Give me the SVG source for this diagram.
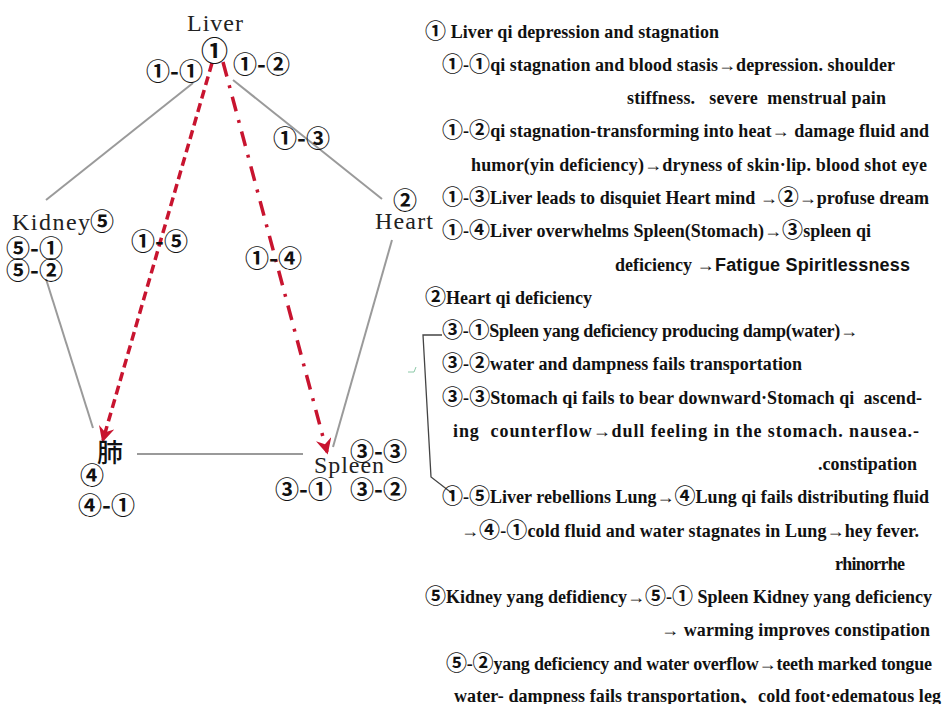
<svg xmlns="http://www.w3.org/2000/svg" width="945" height="704" viewBox="0 0 945 704">
<style>
.lbl{font-family:"Liberation Serif","Noto Sans CJK JP",serif;font-size:24px;fill:#222}
.num{font-family:"Noto Sans CJK JP",sans-serif;font-size:24px;font-weight:bold;fill:#111}
.cjk{font-family:"Noto Sans CJK JP",sans-serif;font-size:26px;font-weight:500;fill:#111}
.txt{font-family:"Liberation Serif","Noto Sans CJK JP",serif;font-weight:bold;font-size:18px;fill:#111;white-space:pre}
.c{font-family:"Noto Sans CJK JP",sans-serif;font-size:21px;font-weight:bold}
.sans{font-family:"Liberation Sans",Arial,sans-serif;font-weight:bold;font-size:18px}
.edge{stroke:#9a9a9a;stroke-width:2;fill:none}
.red{stroke:#c8142f;stroke-width:3.5;fill:none}
.dash{stroke-dasharray:9 5}
.dashdot{stroke-dasharray:15 9 3 9}
.brk{stroke:#444;stroke-width:1.3;fill:none}
</style>
<defs>
<marker id="ah" viewBox="0 0 12 12" refX="10" refY="6" markerWidth="16" markerHeight="16" markerUnits="userSpaceOnUse" orient="auto">
<path d="M0,0 L12,6 L0,12 L4,6 z" fill="#c8142f"/>
</marker>
</defs>
<rect width="945" height="704" fill="#ffffff"/>

<g id="connectors">
<line class="edge" x1="193" y1="83" x2="46" y2="200"/>
<line class="edge" x1="233" y1="80" x2="382" y2="199"/>
<line class="edge" x1="392" y1="240" x2="333" y2="447"/>
<line class="edge" x1="46" y1="279" x2="93" y2="428"/>
<line class="edge" x1="137" y1="454" x2="303" y2="454"/>
<line class="red dash" x1="212" y1="63" x2="103" y2="440" marker-end="url(#ah)"/>
<line class="red dashdot" x1="223" y1="62" x2="327" y2="452" marker-end="url(#ah)"/>
<polyline class="brk" points="442,335 423,335 431,477 453,494"/>
</g>

<g id="edge-labels">
<text class="num" x="146" y="80">①-①</text>
<text class="num" x="233" y="73">①-②</text>
<text class="num" x="273" y="147">①-③</text>
<text class="num" x="245" y="267">①-④</text>
<text class="num" x="131" y="250">①-⑤</text>
</g>

<g id="liver">
<text class="lbl" x="187" y="31" textLength="56">Liver</text>
<text class="num" x="201" y="61" style="font-size:27px">①</text>
</g>
<g id="heart">
<text class="num" x="393" y="209">②</text>
<text class="lbl" x="375" y="229" textLength="58">Heart</text>
</g>
<g id="kidney">
<text class="lbl" x="12" y="230" textLength="78">Kidney</text>
<text class="num" x="90" y="230">⑤</text>
<text class="num" x="6" y="257">⑤-①</text>
<text class="num" x="6" y="279">⑤-②</text>
</g>
<g id="lung">
<text class="cjk" x="97" y="462">肺</text>
<text class="num" x="80" y="484">④</text>
<text class="num" x="78" y="514">④-①</text>
</g>
<g id="spleen">
<text class="lbl" x="314" y="473" textLength="70">Spleen</text>
<text class="num" x="350" y="460">③-③</text>
<text class="num" x="275" y="498">③-①</text>
<text class="num" x="350" y="498">③-②</text>
</g>

<path d="M408,372 L414,372 L416,367" stroke="#8cc9a8" stroke-width="1" fill="none"/>

<g id="notes">
<text class="txt" x="425" y="38" textLength="294"><tspan class="c">①</tspan> Liver qi depression and stagnation</text>
<text class="txt" x="442" y="71" textLength="453"><tspan class="c">①</tspan>-<tspan class="c">①</tspan>qi stagnation and blood stasis→depression. shoulder</text>
<text class="txt" x="627" y="104" textLength="259">stiffness.   severe  menstrual pain</text>
<text class="txt" x="442" y="137" textLength="487"><tspan class="c">①</tspan>-<tspan class="c">②</tspan>qi stagnation-transforming into heat→ damage fluid and</text>
<text class="txt" x="471" y="171" textLength="456">humor(yin deficiency)→dryness of skin·lip. blood shot eye</text>
<text class="txt" x="442" y="204" textLength="487"><tspan class="c">①</tspan>-<tspan class="c">③</tspan>Liver leads to disquiet Heart mind →<tspan class="c">②</tspan>→profuse dream</text>
<text class="txt" x="442" y="237" textLength="429"><tspan class="c">①</tspan>-<tspan class="c">④</tspan>Liver overwhelms Spleen(Stomach)→<tspan class="c">③</tspan>spleen qi</text>
<text class="txt" x="615" y="271">deficiency →<tspan class="sans" x="715" textLength="195">Fatigue Spiritlessness</tspan></text>
<text class="txt" x="425" y="304" textLength="167"><tspan class="c">②</tspan>Heart qi deficiency</text>
<text class="txt" x="442" y="337" textLength="416"><tspan class="c">③</tspan>-<tspan class="c">①</tspan>Spleen yang deficiency producing damp(water)→</text>
<text class="txt" x="442" y="370" textLength="360"><tspan class="c">③</tspan>-<tspan class="c">②</tspan>water and dampness fails transportation</text>
<text class="txt" x="442" y="404" textLength="480"><tspan class="c">③</tspan>-<tspan class="c">③</tspan>Stomach qi fails to bear downward·Stomach qi  ascend-</text>
<text class="txt" x="453" y="437" textLength="466">ing  counterflow→dull feeling in the stomach. nausea.-</text>
<text class="txt" x="818" y="470" textLength="99">.constipation</text>
<text class="txt" x="442" y="503" textLength="487"><tspan class="c">①</tspan>-<tspan class="c">⑤</tspan>Liver rebellions Lung→<tspan class="c">④</tspan>Lung qi fails distributing fluid</text>
<text class="txt" x="461" y="537" textLength="458">→<tspan class="c">④</tspan>-<tspan class="c">①</tspan>cold fluid and water stagnates in Lung→hey fever.</text>
<text class="txt" x="835" y="570" textLength="70">rhinorrhe</text>
<text class="txt" x="425" y="603" textLength="507"><tspan class="c">⑤</tspan>Kidney yang defidiency→<tspan class="c">⑤</tspan>-<tspan class="c">①</tspan> Spleen Kidney yang deficiency</text>
<text class="txt" x="661" y="636" textLength="269">→ warming improves constipation</text>
<text class="txt" x="446" y="670" textLength="486"><tspan class="c">⑤</tspan>-<tspan class="c">②</tspan>yang deficiency and water overflow→teeth marked tongue</text>
<text class="txt" x="454" y="702" textLength="487">water- dampness fails transportation、cold foot·edematous leg</text>
</g>
</svg>
